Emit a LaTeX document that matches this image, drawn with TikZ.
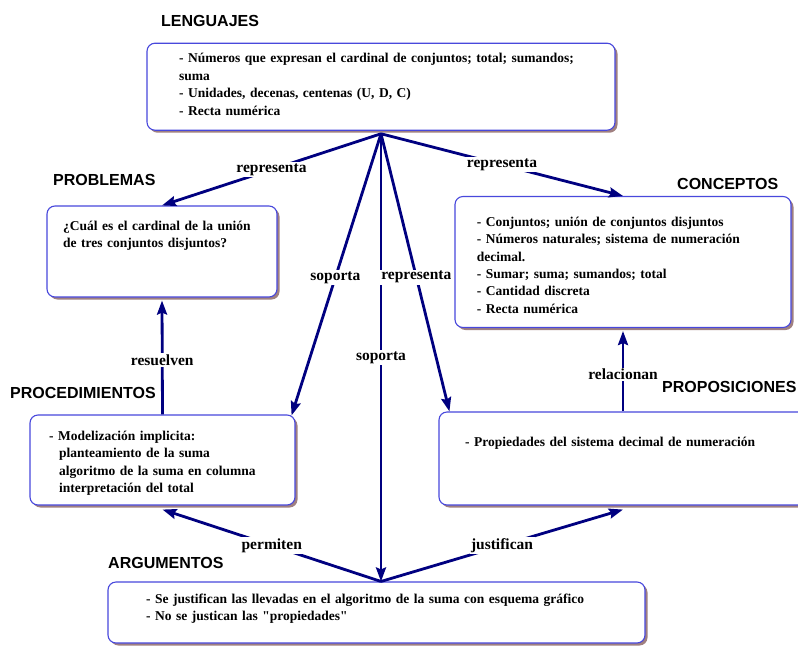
\documentclass[tikz,border=0pt]{standalone}
\usepackage{fontspec}
\setmainfont{Liberation Serif}[Ligatures=TeXOff]
\newfontfamily\titlefont{Liberation Sans}
\usetikzlibrary{arrows.meta,shadows}
\definecolor{arrowcol}{RGB}{0,0,128}
\definecolor{boxborder}{RGB}{72,72,220}
\definecolor{shadowcol}{RGB}{160,128,128}
\tikzset{
  box/.style={draw=boxborder, line width=1.1pt, fill=white, rounded corners=8pt, inner sep=0pt,
    general shadow={fill=shadowcol, shadow xshift=2.5pt, shadow yshift=-2.5pt}},
  ttl/.style={anchor=west, inner sep=0pt, font=\titlefont\fontsize{16}{18}\selectfont\bfseries},
  txt/.style={anchor=base west, inner sep=0pt, text width=470pt, align=left,
    font=\fontsize{13.5}{17.4}\selectfont\bfseries},
  conn/.style={draw=arrowcol, line width=2.8pt, -{Stealth[length=14pt,width=10pt,inset=2pt]}},
  lbl/.style={fill=white, inner sep=1.5pt, text=black, font=\fontsize{15.5}{18}\selectfont\bfseries}
}
\begin{document}
\begin{tikzpicture}[x=1pt,y=-1pt]
\useasboundingbox (0,0) rectangle (798,646);
\clip (0,0) rectangle (798,646);
\fill[white] (0,0) rectangle (798,646);

% boxes
\node[box, minimum width=468pt, minimum height=87pt] (len) at (381,86.7) {};
\node[box, minimum width=230pt, minimum height=91pt] (prob) at (162,251.5) {};
\node[box, minimum width=336pt, minimum height=131pt] (conc) at (623,262) {};
\node[box, minimum width=265pt, minimum height=90pt] (proc) at (162.5,460) {};
\node[box, minimum width=368pt, minimum height=93pt] (prop) at (623,458.5) {};
\node[box, minimum width=537pt, minimum height=61pt] (arg) at (376.5,612.5) {};

% titles
\node[ttl] (tlen) at (161,21) {LENGUAJES};
\node[ttl] (tprob) at (53,180) {PROBLEMAS};
\node[ttl] (tconc) at (677,184) {CONCEPTOS};
\node[ttl] (tproc) at (10,393) {PROCEDIMIENTOS};
\node[ttl] (tprop) at (662,387) {PROPOSICIONES};
\node[ttl] (targ) at (108,562.7) {ARGUMENTOS};

% texts
\node[txt] (xlen) at (179,62.8) {- Números que expresan el cardinal de conjuntos; total; sumandos;\\suma\\- Unidades, decenas, centenas (U, D, C)\\- Recta numérica};
\node[txt] (xprob) at (63,230.5) {¿Cuál es el cardinal de la unión\\de tres conjuntos disjuntos?};
\node[txt] (xconc) at (476.7,226.2) {- Conjuntos; unión de conjuntos disjuntos\\- Números naturales; sistema de numeración\\decimal.\\- Sumar; suma; sumandos; total\\- Cantidad discreta\\- Recta numérica};
\node[txt] (xproc) at (49,440.5) {- Modelización implicita:\\\hspace*{10pt}planteamiento de la suma\\\hspace*{10pt}algoritmo de la suma en columna\\\hspace*{10pt}interpretación del total};
\node[txt] (xprop) at (465,446.2) {- Propiedades del sistema decimal de numeración};
\node[txt] (xarg) at (146,603.5) {- Se justifican las llevadas en el algoritmo de la suma con esquema gráfico\\- No se justican las "propiedades"};

% connectors
\coordinate (hub) at ([yshift=-3pt]len.south);
\coordinate (argtop) at (hub |- arg.north);
\draw[conn] (hub) -- node[lbl,pos=0.5] (l1) {representa} (prob.north);
\draw[conn] (hub) -- node[lbl,pos=0.5] (l2) {representa} (conc.north);
\draw[conn] (hub) -- node[lbl,pos=0.51] (l3) {soporta} ([xshift=-4pt,yshift=-1pt]proc.north east);
\draw[conn] (hub) -- node[lbl,pos=0.5] (l4) {soporta} (argtop);
\draw[conn] (hub) -- node[lbl,pos=0.516] (l5) {representa} ([xshift=11pt]prop.north west);
\draw[conn] (proc.north) -- node[lbl,pos=0.475] (l6) {resuelven} ([yshift=-3pt]prob.south);
\draw[conn] (prop.north) -- node[lbl,pos=0.46] (l7) {relacionan} ([yshift=-3pt]conc.south);
\draw[conn] (argtop) -- node[lbl,pos=0.5] (l8) {permiten} ([yshift=-4pt]proc.south);
\draw[conn] (argtop) -- node[lbl,pos=0.5] (l9) {justifican} ([yshift=-4pt]prop.south);
\end{tikzpicture}
\end{document}
